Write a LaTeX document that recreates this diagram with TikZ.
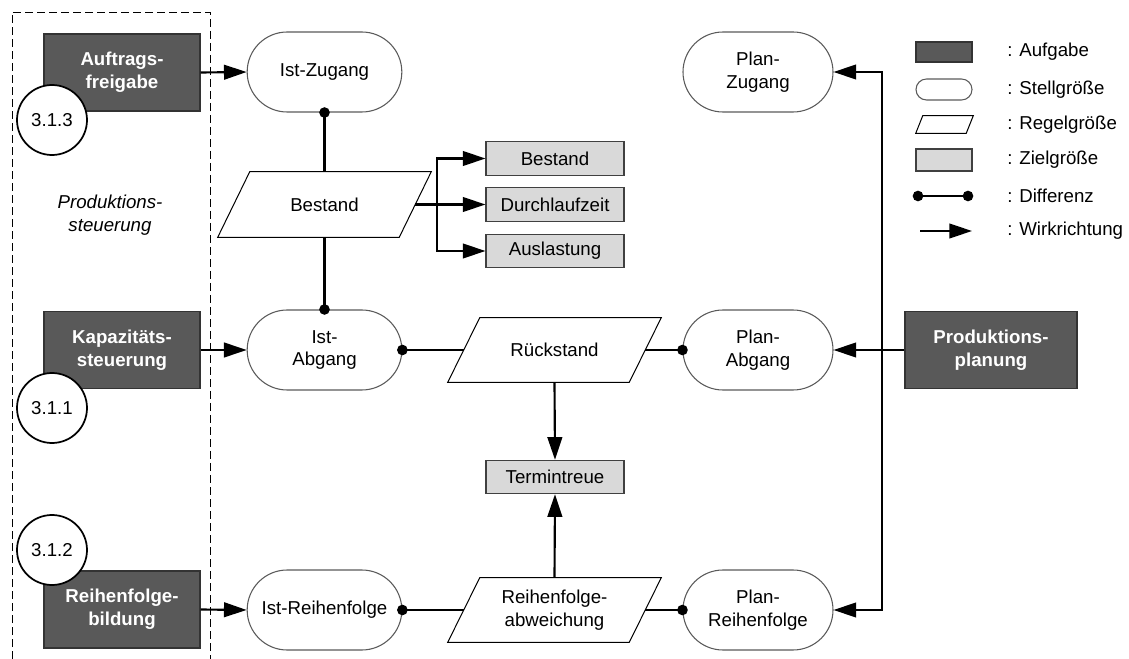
\documentclass[tikz,border=0pt]{standalone}
\usepackage{fontspec}
\setmainfont{Liberation Sans}
\usetikzlibrary{shapes.misc,arrows.meta,calc}
\definecolor{dark}{HTML}{595959}
\definecolor{light}{HTML}{D9D9D9}
\definecolor{rim}{HTML}{5A5A5A}
\newcommand\drawpar[2]{\draw[line width=0.75pt] (#1.south west) -- ([xshift=#2]#1.north west) -- (#1.north east) -- ([xshift=-#2]#1.south east) -- cycle;}
\newcommand\dotat[1]{\fill #1 circle (4pt);}
\begin{document}
\begin{tikzpicture}[x=0.75pt,y=-0.75pt,
  every node/.style={font=\fontsize{14}{17}\selectfont, align=center, inner sep=0pt},
  task/.style={draw=black!80, line width=0.8pt, fill=dark, text=white, font=\fontsize{14}{17}\selectfont\bfseries, minimum width=117pt, minimum height=57.75pt},
  stell/.style={rounded rectangle, draw=rim, line width=0.8pt, fill=white, minimum width=116pt, minimum height=60pt},
  plan/.style={stell, minimum width=112.5pt},
  ziel/.style={draw=black!75, line width=0.8pt, fill=light, minimum width=103.5pt, minimum height=25pt},
  regel/.style={minimum width=159.75pt, minimum height=48pt},
  num/.style={circle, draw=black, line width=1.3pt, fill=white, minimum size=52.5pt},
  conn/.style={line width=1.6pt},
  arr/.style={conn, -{Triangle[length=17pt,width=11pt]}},
  lbl/.style={anchor=west},
]
\useasboundingbox (0,0) rectangle (1129,659);

% dashed frame
\draw[line width=0.6pt, dash pattern=on 6pt off 3pt] (12,659) -- (12,12) -- (210,12) -- (210,659);
\node[font=\fontsize{14}{17}\selectfont\itshape] (ps) at (110,215) {Produktions-\\steuerung};

% tasks
\node[task] (af) at (122,72.5) {Auftrags-\\freigabe};
\node[task] (ks) at (122,350) {Kapazitäts-\\steuerung};
\node[task] (rb) at (122,609.5) {Reihenfolge-\\bildung};
\node[task, minimum width=129pt] (pp) at (991,350) {Produktions-\\planung};

\node[num] (n3) at (52,120) {3.1.3};
\node[num] (n1) at (52,408) {3.1.1};
\node[num] (n2) at (52,550) {3.1.2};

% Stellgroessen
\node[stell] (iz) at (324.5,72) {Ist-Zugang};
\node[stell] (ia) at (324.5,350) {Ist-\\Abgang};
\node[stell] (ir) at (324.5,610) {Ist-Reihenfolge};
\node[plan] (pz) at (758,72) {Plan-\\Zugang};
\node[plan] (pa) at (758,350) {Plan-\\Abgang};
\node[plan] (pr) at (758,610) {Plan-\\Reihenfolge};

% Regelgroessen
\node[regel, minimum height=48.75pt] (be) at (324.5,204.5) {Bestand};
\drawpar{be}{24pt}
\node[regel] (rs) at (554.5,350) {Rückstand};
\drawpar{rs}{24pt}
\node[regel] (ra) at (554.5,610) {Reihenfolge-\\abweichung};
\drawpar{ra}{24pt}

% Zielgroessen
\node[ziel] (zb) at (555,158.5) {Bestand};
\node[ziel] (zd) at (555,204.5) {Durchlaufzeit};
\node[ziel] (zl) at (555,251) {Auslastung};
\node[ziel] (tt) at (555,477) {Termintreue};

% connectors
\draw[arr] (af.east) -- (iz.west);
\draw[arr] (ks.east) -- (ia.west);
\draw[arr] (rb.east) -- (ir.west);

\draw[conn] (iz.south) -- (be.north);
\draw[conn] (be.south) -- (ia.north);
\dotat{(iz.south)}
\dotat{(ia.north)}

\coordinate (br) at (437,204.5);
\draw[conn] ([xshift=-12pt]be.east) -- (br);
\draw[arr] (br) -- (zd.west);
\draw[arr] (br) |- (zb.west);
\draw[arr] (br) |- (zl.west);

\draw[conn] (ia.east) -- ([xshift=12pt]rs.west);
\draw[conn] ([xshift=-12pt]rs.east) -- (pa.west);
\dotat{(ia.east)}
\dotat{(pa.west)}
\draw[conn] (ir.east) -- ([xshift=12pt]ra.west);
\draw[conn] ([xshift=-12pt]ra.east) -- (pr.west);
\dotat{(ir.east)}
\dotat{(pr.west)}

\draw[arr] (rs.south) -- (tt.north);
\draw[arr] (ra.north) -- (tt.south);

\coordinate (vt) at (882,72);
\coordinate (vb) at (882,610);
\draw[conn, {Triangle[length=17pt,width=11pt]}-{Triangle[length=17pt,width=11pt]}] (pz.east) -- (vt) -- (vb) -- (pr.east);
\draw[arr] (pp.west) -- (pa.east);

% legend
\node[draw=black!80, line width=0.8pt, fill=dark, minimum width=42pt, minimum height=15pt] (lga) at (944,52) {};
\node[rounded rectangle, draw=rim, line width=0.8pt, minimum width=42pt, minimum height=15.75pt] (lgs) at (944,89.5) {};
\node[minimum width=42.75pt, minimum height=12.75pt] (lgr) at (944.5,124.5) {};
\drawpar{lgr}{5.25pt}
\node[draw=black!75, line width=0.8pt, fill=light, minimum width=42pt, minimum height=16.5pt] (lgz) at (944,160) {};
\coordinate (d1) at (918,196);
\coordinate (d2) at (968,196);
\draw[conn] (d1) -- (d2);
\dotat{(d1)}
\dotat{(d2)}
\coordinate (w1) at (920,231);
\coordinate (w2) at (972,231);
\draw[arr] (w1) -- (w2);

\node[lbl] (ta) at (1007,52) {: Aufgabe};
\node[lbl] (ts) at (1007,89.5) {: Stellgröße};
\node[lbl] (tr) at (1007,124.5) {: Regelgröße};
\node[lbl] (tz) at (1007,160) {: Zielgröße};
\node[lbl] (td) at (1007,196) {: Differenz};
\node[lbl] (tw) at (1007,231) {: Wirkrichtung};
\end{tikzpicture}
\end{document}
